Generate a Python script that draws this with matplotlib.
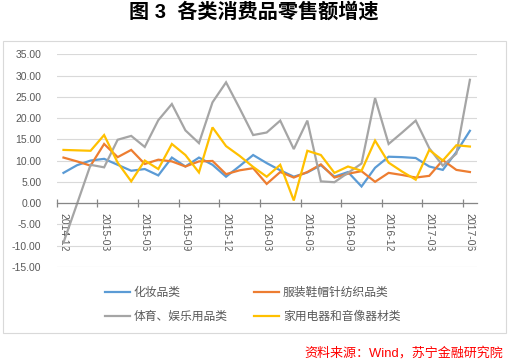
import numpy as np
import matplotlib
matplotlib.use("Agg")
import matplotlib.pyplot as plt
from matplotlib.patches import Rectangle
from matplotlib.ticker import FuncFormatter

plt.rcParams['font.family'] = ['Liberation Sans', 'Noto Sans CJK SC', 'DejaVu Sans']

# monthly growth, 2014-12 .. 2017-06
months = ['2014-12', '2015-01', '2015-02', '2015-03', '2015-04', '2015-05', '2015-06',
          '2015-07', '2015-08', '2015-09', '2015-10', '2015-11', '2015-12', '2016-01',
          '2016-02', '2016-03', '2016-04', '2016-05', '2016-06', '2016-07', '2016-08',
          '2016-09', '2016-10', '2016-11', '2016-12', '2017-01', '2017-02', '2017-03',
          '2017-04', '2017-05', '2017-06']

cosmetics = [7.1, 8.9, 10.0, 10.4, 9.0, 7.6, 8.0, 6.5, 10.7, 8.6, 10.7, 9.0, 6.2, 8.7,
             11.3, 9.4, 7.7, 6.2, 7.2, 8.9, 6.2, 7.3, 3.9, 8.3, 10.9, 10.8, 10.6, 8.6,
             7.8, 12.0, 17.0]
clothing = [10.7, 9.8, 8.8, 13.9, 10.8, 12.5, 9.2, 10.2, 9.8, 8.6, 9.8, 9.9, 6.8, 7.7,
            8.2, 4.5, 7.3, 6.0, 7.3, 9.1, 6.0, 6.9, 7.5, 5.0, 7.1, 6.6, 6.0, 6.4, 10.1,
            7.8, 7.3]
sports = [-9.3, -0.2, 9.0, 8.4, 14.9, 15.8, 13.2, 19.5, 23.3, 17.1, 14.1, 23.7, 28.4,
          22.3, 16.0, 16.6, 19.4, 12.7, 19.4, 5.1, 4.9, 7.1, 9.3, 24.7, 13.9, 16.6, 19.4,
          12.9, 8.8, 11.6, 29.0]
appliances = [12.5, 12.4, 12.3, 16.0, 9.5, 5.1, 10.0, 8.0, 13.9, 11.3, 7.2, 17.8, 13.4,
              11.1, 8.5, 6.2, 9.0, 0.6, 12.3, 11.3, 7.1, 8.6, 7.6, 14.7, 9.5, 7.4, 5.5,
              12.5, 10.0, 13.6, 13.3]

names = ['化妆品类', '服装鞋帽针纺织品类', '体育、娱乐用品类', '家用电器和音像器材类']
colors = ['#5B9BD5', '#ED7D31', '#A5A5A5', '#FFC000']

fig = plt.figure(figsize=(5.09, 3.62), dpi=100)
ax = fig.add_axes([0.1114, 0.263, 0.8251, 0.587])

x = np.arange(len(months))
lines = []
for vals, c, n in zip([cosmetics, clothing, sports, appliances], colors, names):
    l, = ax.plot(x, vals, color=c, lw=1.6, label=n, solid_joinstyle='miter')
    lines.append(l)

ax.set_xlim(-0.5, len(months) - 0.5)
ax.set_ylim(-15, 35)
ax.set_yticks(np.arange(-15, 36, 5))
ax.yaxis.set_major_formatter(FuncFormatter(lambda v, p: '%.2f' % v))
ax.grid(axis='y', color='#D9D9D9', lw=0.8)
ax.set_axisbelow(True)

for s in ['top', 'right', 'left']:
    ax.spines[s].set_visible(False)
ax.spines['bottom'].set_position(('data', 0))
ax.spines['bottom'].set_color('#868686')
ax.spines['bottom'].set_linewidth(0.9)

ax.set_xticks(np.arange(-0.5, len(months) - 1, 3))
ax.set_xticklabels([])
ax.set_xticks(x[::3], minor=True)
ax.set_xticklabels(months[::3], minor=True, rotation=-90)
ax.tick_params(axis='x', which='major', direction='inout', length=6, color='#868686', width=0.9)
ax.tick_params(axis='x', which='minor', length=0, pad=7, labelsize=7.5, labelcolor='#595959')
ax.tick_params(axis='y', length=0, pad=11, labelsize=7.5, labelcolor='#595959')
for t in ax.get_xticklabels(minor=True):
    t.set_va('top')

# chart frame
fig.patches.append(Rectangle((3 / 509, 1 - 333 / 362), 503 / 509, 292 / 362,
                             transform=fig.transFigure, fill=False, ec='#D9D9D9', lw=0.8))

order = [0, 2, 1, 3]
fig.legend([lines[i] for i in order], [names[i] for i in order], ncol=2, frameon=False,
           loc='upper left', bbox_to_anchor=(105 / 509, 1 - 287 / 362), borderaxespad=0,
           borderpad=0, fontsize=8.5, handlelength=2.1, handletextpad=0.3,
           columnspacing=2.3, labelspacing=1.0, labelcolor='#595959')

fig.text(0.498, 1 - 12 / 362, '图 3  各类消费品零售额增速', ha='center', va='center',
         fontsize=14.5, fontweight='bold', color='black')
fig.text(503 / 509, 1 - 353 / 362, '资料来源：Wind，苏宁金融研究院', ha='right', va='center',
         fontsize=9.4, color='#FF0000')

fig.savefig('out.png', dpi=100)
